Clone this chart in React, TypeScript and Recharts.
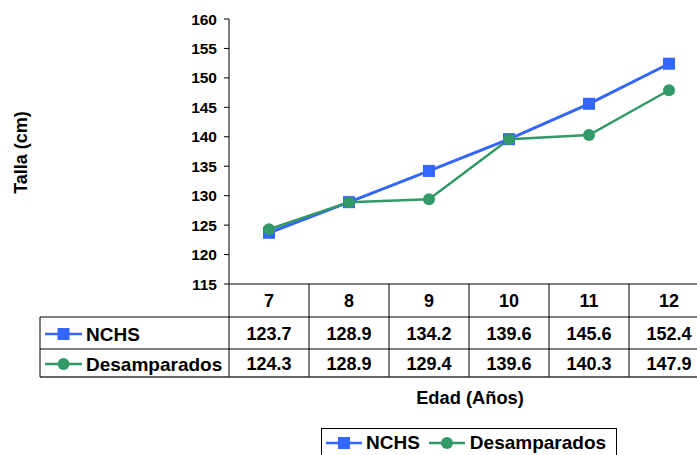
import React from 'react';
import { LineChart, Line, XAxis, YAxis, Legend } from 'recharts';

const ages = ['7', '8', '9', '10', '11', '12'];
const nchsValues = [123.7, 128.9, 134.2, 139.6, 145.6, 152.4];
const desamparadosValues = [124.3, 128.9, 129.4, 139.6, 140.3, 147.9];
const yTicks = [115, 120, 125, 130, 135, 140, 145, 150, 155, 160];
const seriesNames = ['NCHS', 'Desamparados'];

const BLUE = '#3366FF';
const GREEN = '#339966';
const FONT = '"Liberation Sans", Arial, Helvetica, sans-serif';

const data = ages.map((age, i) => ({
  age,
  NCHS: nchsValues[i],
  Desamparados: desamparadosValues[i],
}));

const HALF_COL = 40;
const ROW1 = 33;
const ROW2 = 65;
const ROW3 = 93;
const LEFT_BOX = 189;

const SymbolSvg = ({ color, shape, width = 36, lineW = 2.5 }: any) => (
  <svg width={width} height={14} style={{ display: 'block' }}>
    <line x1={0} x2={width} y1={7} y2={7} stroke={color} strokeWidth={lineW} />
    {shape === 'square' ? (
      <rect x={width / 2 - 6} y={1} width={12} height={12} fill={color} />
    ) : (
      <circle cx={width / 2} cy={7} r={6} fill={color} />
    )}
  </svg>
);

const SymbolG = ({ color, shape, x, y, width = 37 }: any) => (
  <g>
    <line x1={x} x2={x + width} y1={y} y2={y} stroke={color} strokeWidth={2.5} />
    {shape === 'square' ? (
      <rect x={x + width / 2 - 6} y={y - 6} width={12} height={12} fill={color} />
    ) : (
      <circle cx={x + width / 2} cy={y} r={6} fill={color} />
    )}
  </g>
);

const TableTick = (props: any) => {
  const { x, y, payload } = props;
  const i = ages.indexOf(String(payload.value));
  const left = x - HALF_COL;
  const right = x + HALF_COL;
  const txt = {
    fontFamily: FONT,
    fontWeight: 700,
    fontSize: 18,
    fill: '#000',
    textAnchor: 'middle' as const,
    dominantBaseline: 'central' as const,
  };
  return (
    <g>
      {i === 0 && (
        <g>
          <line x1={left} x2={left} y1={y} y2={y + ROW3} stroke="#000" strokeWidth={1} />
          <line x1={left - LEFT_BOX} x2={left} y1={y + ROW1} y2={y + ROW1} stroke="#000" />
          <line x1={left - LEFT_BOX} x2={left} y1={y + ROW2} y2={y + ROW2} stroke="#000" />
          <line x1={left - LEFT_BOX} x2={left} y1={y + ROW3} y2={y + ROW3} stroke="#333" strokeWidth={1.5} />
          <line x1={left - LEFT_BOX} x2={left - LEFT_BOX} y1={y + ROW1} y2={y + ROW3} stroke="#000" />
          <SymbolG color={BLUE} shape="square" x={left - LEFT_BOX + 5} y={y + 50} />
          <SymbolG color={GREEN} shape="circle" x={left - LEFT_BOX + 5} y={y + 80} />
          <text x={left - LEFT_BOX + 46} y={y + 50} {...txt} fontSize={19} textAnchor="start">{seriesNames[0]}</text>
          <text x={left - LEFT_BOX + 46} y={y + 80} {...txt} fontSize={19} textAnchor="start">{seriesNames[1]}</text>
        </g>
      )}
      <line x1={right} x2={right} y1={y} y2={y + ROW3} stroke="#000" />
      <line x1={left} x2={right} y1={y + ROW1} y2={y + ROW1} stroke="#000" />
      <line x1={left} x2={right} y1={y + ROW2} y2={y + ROW2} stroke="#000" />
      <line x1={left} x2={right} y1={y + ROW3} y2={y + ROW3} stroke="#333" strokeWidth={1.5} />
      <text x={x} y={y + 17} {...txt}>{payload.value}</text>
      <text x={x} y={y + 50} {...txt}>{nchsValues[i].toFixed(1)}</text>
      <text x={x} y={y + 80} {...txt}>{desamparadosValues[i].toFixed(1)}</text>
    </g>
  );
};

const YTitle = (props: any) => {
  const vb = props.viewBox || { x: 0, y: 0, width: 0, height: 0 };
  const cx = vb.x + 13;
  const cy = vb.y + vb.height / 2 + 1;
  return (
    <text
      x={cx}
      y={cy}
      transform={`rotate(-90 ${cx} ${cy})`}
      textAnchor="middle"
      dominantBaseline="central"
      style={{ fontFamily: FONT, fontWeight: 700, fontSize: 18, fill: '#000' }}
    >
      Talla (cm)
    </text>
  );
};

const XTitle = (props: any) => {
  const vb = props.viewBox || { x: 0, y: 0, width: 0, height: 0 };
  return (
    <text
      x={vb.x + vb.width / 2 + 1}
      y={vb.y + 113}
      textAnchor="middle"
      dominantBaseline="central"
      style={{ fontFamily: FONT, fontWeight: 700, fontSize: 18.3, fill: '#000' }}
    >
      Edad (Años)
    </text>
  );
};

const SquareDot = (p: any) => {
  const { cx, cy, index } = p;
  if (cx == null || cy == null) return <g key={`sq-${index}`} />;
  return <rect key={`sq-${index}`} x={cx - 6} y={cy - 6} width={12} height={12} fill={BLUE} />;
};

const LegendBox = () => (
  <div
    style={{
      width: 296,
      height: 30,
      boxSizing: 'border-box',
      border: '1px solid #000',
      margin: '0 auto',
      display: 'flex',
      alignItems: 'center',
      paddingLeft: 4,
      fontFamily: FONT,
      fontWeight: 700,
      fontSize: 19,
      color: '#000',
      whiteSpace: 'nowrap',
    }}
  >
    <SymbolSvg color={BLUE} shape="square" />
    <span style={{ marginLeft: 4 }}>{seriesNames[0]}</span>
    <span style={{ marginLeft: 9 }}>
      <SymbolSvg color={GREEN} shape="circle" />
    </span>
    <span style={{ marginLeft: 5 }}>{seriesNames[1]}</span>
  </div>
);

export default function App() {
  return (
    <div
      style={{
        position: 'absolute',
        left: 8,
        top: 8,
        width: 689,
        height: 447,
        overflow: 'hidden',
        background: '#fff',
      }}
    >
      <LineChart
        width={720}
        height={450}
        data={data}
        margin={{ top: 11, right: 19, left: 0, bottom: 0 }}
      >
        <YAxis
          type="number"
          domain={[115, 160]}
          ticks={yTicks}
          interval={0}
          width={221}
          tickSize={5}
          tickMargin={7}
          axisLine={{ stroke: '#000', strokeWidth: 1 }}
          tickLine={{ stroke: '#000', strokeWidth: 1 }}
          tick={{ fill: '#000', fontSize: 15.5, fontWeight: 700, fontFamily: FONT }}
          label={<YTitle />}
        />
        <XAxis
          dataKey="age"
          type="category"
          padding={{ left: HALF_COL, right: HALF_COL }}
          height={144}
          interval={0}
          tickSize={0}
          tickMargin={0}
          tickLine={false}
          axisLine={{ stroke: '#000', strokeWidth: 1 }}
          tick={<TableTick />}
          label={<XTitle />}
        />
        <Legend
          verticalAlign="bottom"
          align="left"
          wrapperStyle={{ left: 221, width: 480, bottom: 0 }}
          content={() => <LegendBox />}
        />
        <Line
          type="linear"
          dataKey="NCHS"
          stroke={BLUE}
          strokeWidth={3}
          dot={SquareDot}
          activeDot={false}
          isAnimationActive={false}
        />
        <Line
          type="linear"
          dataKey="Desamparados"
          stroke={GREEN}
          strokeWidth={2.5}
          dot={{ r: 6, fill: GREEN, stroke: GREEN, strokeWidth: 0 }}
          activeDot={false}
          isAnimationActive={false}
        />
      </LineChart>
    </div>
  );
}
